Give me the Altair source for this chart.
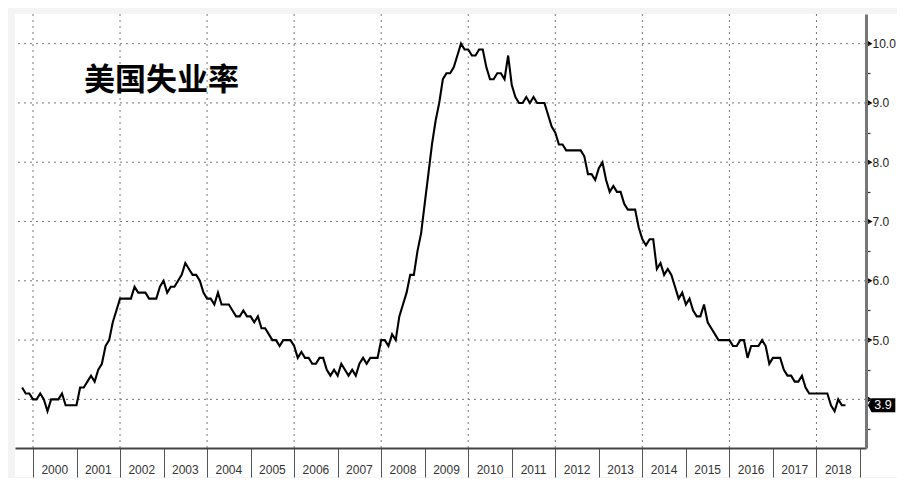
import altair as alt
import pandas as pd

# ---- data (monthly US unemployment rate, %, Sep 1999 - Aug 2018) ----
start_year, start_month = 1999, 9
rate_1999 = [4.2, 4.1, 4.1, 4.0]
rate_2000 = [4.0, 4.1, 4.0, 3.8, 4.0, 4.0, 4.0, 4.1, 3.9, 3.9, 3.9, 3.9]
rate_2001 = [4.2, 4.2, 4.3, 4.4, 4.3, 4.5, 4.6, 4.9, 5.0, 5.3, 5.5, 5.7]
rate_2002 = [5.7, 5.7, 5.7, 5.9, 5.8, 5.8, 5.8, 5.7, 5.7, 5.7, 5.9, 6.0]
rate_2003 = [5.8, 5.9, 5.9, 6.0, 6.1, 6.3, 6.2, 6.1, 6.1, 6.0, 5.8, 5.7]
rate_2004 = [5.7, 5.6, 5.8, 5.6, 5.6, 5.6, 5.5, 5.4, 5.4, 5.5, 5.4, 5.4]
rate_2005 = [5.3, 5.4, 5.2, 5.2, 5.1, 5.0, 5.0, 4.9, 5.0, 5.0, 5.0, 4.9]
rate_2006 = [4.7, 4.8, 4.7, 4.7, 4.6, 4.6, 4.7, 4.7, 4.5, 4.4, 4.5, 4.4]
rate_2007 = [4.6, 4.5, 4.4, 4.5, 4.4, 4.6, 4.7, 4.6, 4.7, 4.7, 4.7, 5.0]
rate_2008 = [5.0, 4.9, 5.1, 5.0, 5.4, 5.6, 5.8, 6.1, 6.1, 6.5, 6.8, 7.3]
rate_2009 = [7.8, 8.3, 8.7, 9.0, 9.4, 9.5, 9.5, 9.6, 9.8, 10.0, 9.9, 9.9]
rate_2010 = [9.8, 9.8, 9.9, 9.9, 9.6, 9.4, 9.4, 9.5, 9.5, 9.4, 9.8, 9.3]
rate_2011 = [9.1, 9.0, 9.0, 9.1, 9.0, 9.1, 9.0, 9.0, 9.0, 8.8, 8.6, 8.5]
rate_2012 = [8.3, 8.3, 8.2, 8.2, 8.2, 8.2, 8.2, 8.1, 7.8, 7.8, 7.7, 7.9]
rate_2013 = [8.0, 7.7, 7.5, 7.6, 7.5, 7.5, 7.3, 7.2, 7.2, 7.2, 6.9, 6.7]
rate_2014 = [6.6, 6.7, 6.7, 6.2, 6.3, 6.1, 6.2, 6.1, 5.9, 5.7, 5.8, 5.6]
rate_2015 = [5.7, 5.5, 5.4, 5.4, 5.6, 5.3, 5.2, 5.1, 5.0, 5.0, 5.0, 5.0]
rate_2016 = [4.9, 4.9, 5.0, 5.0, 4.7, 4.9, 4.9, 4.9, 5.0, 4.9, 4.6, 4.7]
rate_2017 = [4.7, 4.7, 4.5, 4.4, 4.4, 4.3, 4.3, 4.4, 4.2, 4.1, 4.1, 4.1]
rate_2018 = [4.1, 4.1, 4.1, 3.9, 3.8, 4.0, 3.9, 3.9]

year_labels = list(range(2000, 2019))          # labelled years
year_ticks = list(range(2000, 2020))           # year boundaries
grid_years = list(range(2000, 2019, 2))        # dotted vertical grid
grid_values = [4, 5, 6, 7, 8, 9, 10]           # dotted horizontal grid
y_tick_values = [3.5, 4, 4.5, 5, 5.5, 6, 6.5, 7, 7.5, 8, 8.5, 9, 9.5, 10]
title_text = "美国失业率"

all_rates = (rate_1999 + rate_2000 + rate_2001 + rate_2002 + rate_2003 + rate_2004
             + rate_2005 + rate_2006 + rate_2007 + rate_2008 + rate_2009 + rate_2010
             + rate_2011 + rate_2012 + rate_2013 + rate_2014 + rate_2015 + rate_2016
             + rate_2017 + rate_2018)
xs = []
y, m = start_year, start_month
for _ in all_rates:
    xs.append(y + m / 12.0)   # month-end position
    m += 1
    if m > 12:
        m = 1
        y += 1
df = pd.DataFrame({"t": xs, "rate": all_rates})
last = pd.DataFrame({"t": [xs[-1]], "rate": [all_rates[-1]],
                     "label": [f"{all_rates[-1]:.1f}"]})
df_years = pd.DataFrame({"mid": [yv + 0.5 for yv in year_labels],
                         "label": [str(yv) for yv in year_labels]})
df_vgrid = pd.DataFrame({"g": grid_years})
df_hgrid = pd.DataFrame({"v": grid_values})
df_major = pd.DataFrame({"v": grid_values})
df_title = pd.DataFrame({"label": [title_text]})
one = pd.DataFrame({"k": [0]})

W, H = 851, 434
X_DOMAIN = [1999.587, 2019.138]
Y_DOMAIN = [3.18, 10.5]

xscale = alt.Scale(domain=X_DOMAIN, nice=False, zero=False)
yscale = alt.Scale(domain=Y_DOMAIN, nice=False, zero=False)

x_axis = alt.Axis(values=year_ticks, labels=False, tickSize=29, tickColor="#555",
                  tickWidth=1, domainColor="#444", domainWidth=2, grid=False,
                  title=None, zindex=1)
y_axis = alt.Axis(orient="right", values=y_tick_values, tickSize=4, tickColor="#333",
                  tickWidth=1.2, domainColor="#777", domainWidth=3, grid=False,
                  title=None, labelPadding=2, labelFontSize=12, labelColor="#222",
                  labelFont="Liberation Sans", zindex=1,
                  labelExpr="(datum.value % 1 == 0 && datum.value >= 5) ? format(datum.value, '.1f') : ''")

X = lambda f: alt.X(f, scale=xscale, axis=x_axis)
Y = lambda f: alt.Y(f, scale=yscale, axis=y_axis)

bg = alt.Chart(one).mark_rect(color="white", clip=False).encode(
    x=alt.value(0), x2=alt.value(W + 40), y=alt.value(0), y2=alt.value(H + 29))

vgrid = alt.Chart(df_vgrid).mark_rule(color="#777", strokeDash=[2, 4], strokeWidth=1).encode(
    x=X("g:Q"))

hgrid = alt.Chart(df_hgrid).mark_rule(color="#777", strokeDash=[2, 4], strokeWidth=1).encode(
    y=Y("v:Q"))

line = alt.Chart(df).mark_line(color="black", strokeWidth=2.1).encode(
    x=X("t:Q"), y=Y("rate:Q"))

year_text = alt.Chart(df_years).mark_text(fontSize=12, color="#333", font="Liberation Sans",
                                          baseline="middle", align="center", clip=False).encode(
    x=X("mid:Q"), y=alt.value(H + 22), text="label:N")

majors = alt.Chart(df_major).mark_point(shape="triangle-right", filled=True, color="black",
                                         size=32, opacity=1, clip=False).encode(
    x=alt.value(W + 4), y=Y("v:Q"))

badge = alt.Chart(last).mark_point(shape="M0,0L0.5,-1L3.9,-1L3.9,1L0.5,1Z", filled=True,
                                   color="black", size=196, opacity=1, clip=False).encode(
    x=alt.value(W + 2), y=Y("rate:Q"))

badge_text = alt.Chart(last).mark_text(color="white", fontSize=12.5, font="Liberation Sans",
                                       align="center", baseline="middle", clip=False).encode(
    x=alt.value(W + 17), y=Y("rate:Q"), text="label:N")

title = alt.Chart(df_title).mark_text(font="Noto Sans CJK SC", fontSize=31, fontWeight="bold",
                                      color="black", align="left", baseline="middle").encode(
    x=alt.value(69), y=alt.value(67), text="label:N")

chart = alt.layer(bg, vgrid, hgrid, line, year_text, majors, badge, badge_text, title).properties(
    width=W, height=H,
    autosize=alt.AutoSizeParams(type="none"),
    padding={"left": 7, "top": 6, "right": 31, "bottom": 30},
    background="#f4f4f4",
).configure_view(stroke=None)

chart.save("out.html", embed_options={"renderer": "svg", "actions": False})
